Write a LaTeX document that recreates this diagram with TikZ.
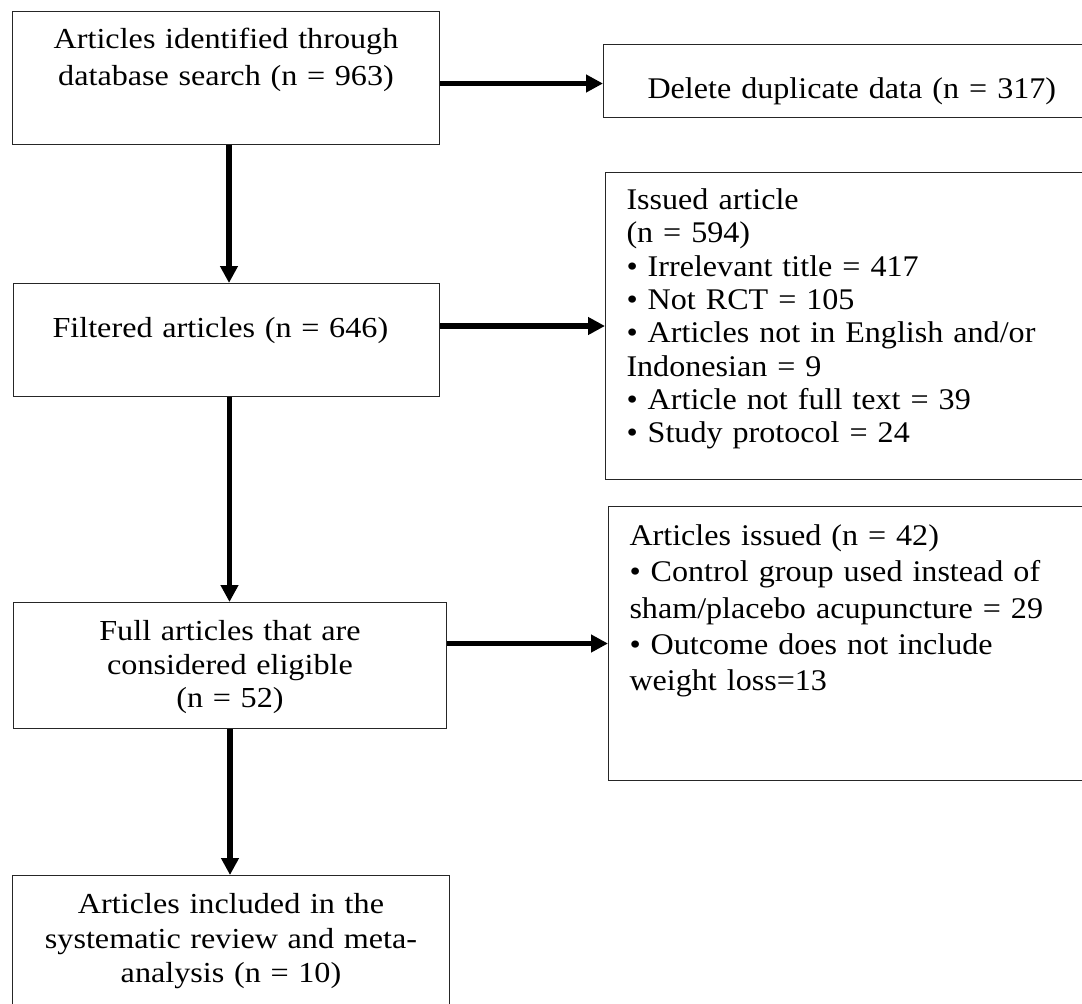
\documentclass[tikz,border=0pt]{standalone}
\usepackage{fontspec}
\setmainfont{Liberation Serif}[FakeStretch=1.11]
\newfontfamily\wideserif{Liberation Serif}[FakeStretch=1.07]
\usetikzlibrary{arrows.meta}

\begin{document}
\begin{tikzpicture}[x=1pt,y=-1pt,
  box/.style={draw=black!85, line width=1pt, rectangle, anchor=north west, inner ysep=0pt},
  fs/.style={font=\fontsize{29}{#1}\selectfont},
  fsr/.style={font=\wideserif\fontsize{30}{#1}\selectfont},
  arr/.style={line width=5.3pt, -{Triangle[length=17pt,width=17pt]}}]
\useasboundingbox (0,0) rectangle (1082,1004);
\clip (0,0) rectangle (1082,1004);

% left column
\node[box, fs=37, align=center, inner xsep=10pt, text width=407pt, text height=37pt, text depth=96pt] (found) at (12,11)
  {Articles identified through\\database search (n = 963)};
\node[box, fs=34, align=left, inner xsep=39pt, text width=348pt, text height=54pt, text depth=59pt] (filt) at (13,283)
  {Filtered articles (n = 646)};
\node[box, fs=33.5, align=center, inner xsep=10pt, text width=413pt, text height=38pt, text depth=88pt] (full) at (13,602)
  {Full articles that are\\considered eligible\\(n = 52)};
\node[box, fs=34.5, align=center, inner xsep=10pt, text width=417pt, text height=38pt, text depth=145pt] (incl) at (12,875)
  {Articles included in the\\systematic review and meta-\\analysis (n = 10)};

% right column
\node[box, fsr=34, align=left, inner xsep=44pt, text width=409pt, text height=54pt, text depth=19pt] (del) at (603,44)
  {Delete duplicate data (n = 317)};
\node[box, fsr=33.3, align=left, inner xsep=21pt, text width=453pt, text height=37pt, text depth=270pt] (iss) at (605,172)
  {Issued article\\
   (n = 594)\\
   \textbullet{} Irrelevant title = 417\\
   \textbullet{} Not RCT = 105\\
   \textbullet{} Articles not in English and/or\\
   Indonesian = 9\\
   \textbullet{} Article not full text = 39\\
   \textbullet{} Study protocol = 24};
\node[box, fsr=36.3, align=left, inner xsep=21pt, text width=450pt, text height=39pt, text depth=235pt] (iss2) at (608,506)
  {Articles issued (n = 42)\\
   \textbullet{} Control group used instead of\\
   sham/placebo acupuncture = 29\\
   \textbullet{} Outcome does not include\\
   weight loss=13};

\draw[arr] ([xshift=3pt]found.south) -- ([xshift=3pt]found.south |- filt.north);
\draw[arr] ([xshift=3pt]filt.south) -- ([xshift=3pt]filt.south |- full.north);
\draw[arr] (full.south) -- (full.south |- incl.north);

\draw[arr] ([yshift=-2.5pt]found.east |- del.west) -- ([yshift=-2.5pt]del.west);
\draw[arr] (filt.east |- iss.west) -- (iss.west);
\draw[arr] (full.east |- iss2.west) -- (iss2.west);
\end{tikzpicture}
\end{document}
